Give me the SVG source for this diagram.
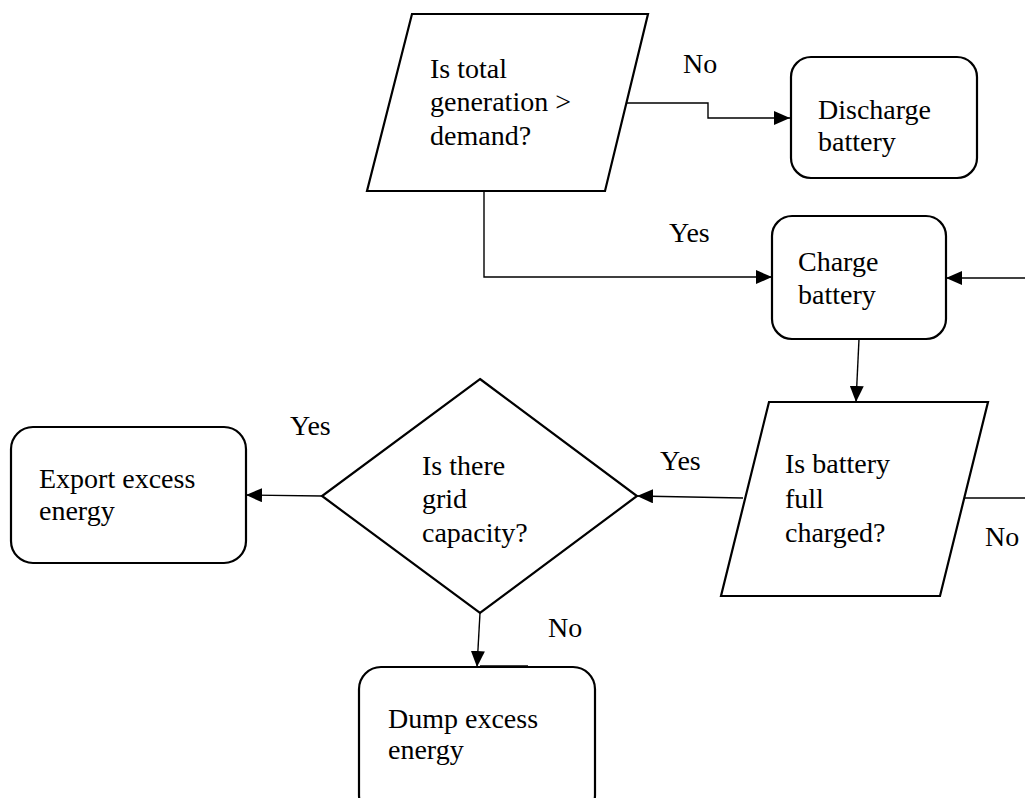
<svg xmlns="http://www.w3.org/2000/svg" width="1025" height="798" viewBox="0 0 1025 798" font-family="Liberation Serif, DejaVu Serif, serif" font-size="28">
  <style>
    .shape { fill: #fff; stroke: #000; stroke-width: 2.2; }
    .link { fill: none; stroke: #000; stroke-width: 1.4; }
    text { fill: #000; }
  </style>
  <defs>
    <marker id="arrow" viewBox="0 0 16 14" refX="16" refY="7" markerWidth="16" markerHeight="14" markerUnits="userSpaceOnUse" orient="auto">
      <path d="M0,0 L16,7 L0,14 Z" fill="#000"/>
    </marker>
  </defs>

  <rect width="1025" height="798" fill="#fff"/>

  <!-- connectors -->
  <g id="connectors">
    <path class="link" d="M627,103 H708 V118 H790" marker-end="url(#arrow)"/>
    <path class="link" d="M484,191 V277 H772" marker-end="url(#arrow)"/>
    <path class="link" d="M1025,278 H946" marker-end="url(#arrow)"/>
    <path class="link" d="M859,339 L856,402" marker-end="url(#arrow)"/>
    <path class="link" d="M965,498 H1025"/>
    <path class="link" d="M743,498 L637,496" marker-end="url(#arrow)"/>
    <path class="link" d="M322,496 L246,495" marker-end="url(#arrow)"/>
    <path class="link" d="M480,613 L477,667" marker-end="url(#arrow)"/>
    <path class="link" d="M480,666 H528"/>
  </g>

  <!-- edge labels -->
  <g id="labels">
    <text x="683" y="73">No</text>
    <text x="669" y="242">Yes</text>
    <text x="660" y="470">Yes</text>
    <text x="290" y="435">Yes</text>
    <text x="985" y="546">No</text>
    <text x="548" y="637">No</text>
  </g>

  <g id="node-generation">
    <polygon class="shape" points="412,14 648,14 605,191 367,191"/>
    <text x="430" y="78">Is total</text>
    <text x="430" y="111">generation &gt;</text>
    <text x="430" y="145">demand?</text>
  </g>

  <g id="node-discharge">
    <rect class="shape" x="791" y="57" width="186" height="121" rx="20"/>
    <text x="818" y="119">Discharge</text>
    <text x="818" y="151">battery</text>
  </g>

  <g id="node-charge">
    <rect class="shape" x="772" y="216" width="174" height="123" rx="20"/>
    <text x="798" y="271">Charge</text>
    <text x="798" y="304">battery</text>
  </g>

  <g id="node-battery-full">
    <polygon class="shape" points="769,402 988,402 940,596 721,596"/>
    <text x="785" y="473">Is battery</text>
    <text x="785" y="508">full</text>
    <text x="785" y="542">charged?</text>
  </g>

  <g id="node-grid">
    <polygon class="shape" points="480,379 637,496 480,613 322,496"/>
    <text x="422" y="475">Is there</text>
    <text x="422" y="508">grid</text>
    <text x="422" y="542">capacity?</text>
  </g>

  <g id="node-export">
    <rect class="shape" x="11" y="427" width="235" height="136" rx="22"/>
    <text x="39" y="488">Export excess</text>
    <text x="39" y="520">energy</text>
  </g>

  <g id="node-dump">
    <rect class="shape" x="359" y="667" width="236" height="150" rx="22"/>
    <text x="388" y="728">Dump excess</text>
    <text x="388" y="759">energy</text>
  </g>
</svg>
